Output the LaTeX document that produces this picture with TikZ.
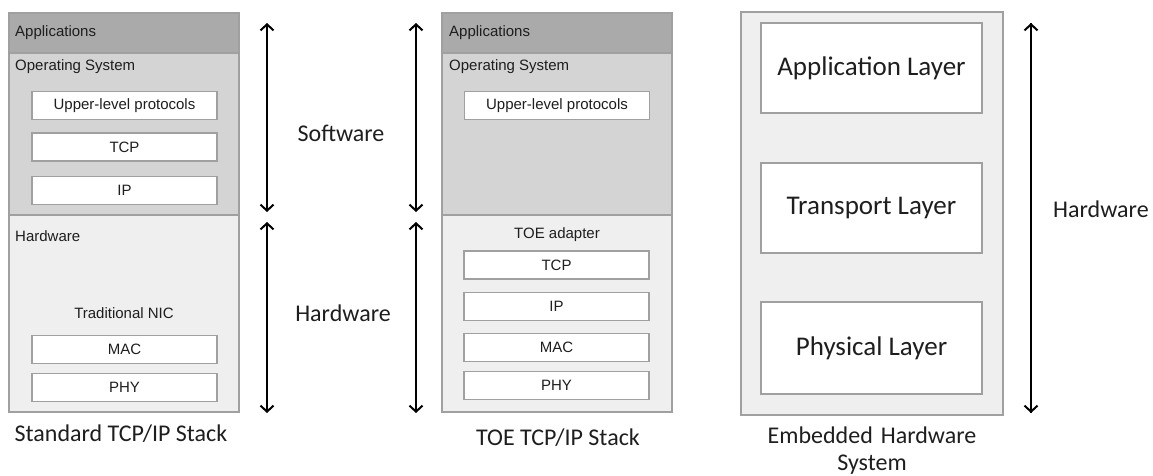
\documentclass[tikz,border=0pt]{standalone}
\usepackage{fontspec}
\setmainfont{Liberation Sans}
\newfontfamily\calfont{Carlito}
\usetikzlibrary{arrows.meta}
\definecolor{appgray}{RGB}{170,170,170}
\definecolor{osgray}{RGB}{212,212,212}
\definecolor{hwgray}{RGB}{239,239,239}
\definecolor{edgegray}{RGB}{160,160,160}
\definecolor{txtgray}{RGB}{30,30,30}
\tikzset{
  band/.style={draw=edgegray, line width=1.6pt, inner sep=0pt, minimum width=230pt},
  proto/.style={draw=edgegray, line width=1.4pt, fill=white, inner sep=0pt, minimum width=185pt, minimum height=28pt, font=\fontsize{15}{17}\selectfont, text=txtgray},
  small/.style={font=\fontsize{15}{17}\selectfont, text=txtgray, inner sep=0pt},
  layer/.style={draw=edgegray, line width=1.6pt, fill=white, inner sep=0pt, minimum width=221pt, font=\calfont\fontsize{27}{30}\selectfont, text=txtgray},
  side/.style={font=\calfont\fontsize{24}{27}\selectfont, text=txtgray, inner sep=0pt},
  caption/.style={font=\calfont\fontsize{24}{27}\selectfont, text=txtgray, inner sep=0pt, align=center},
  barb/.tip={Straight Barb[length=6pt,width=13pt,line width=2pt]},
  dbl/.style={line width=2pt, barb-barb},
  sgl/.style={line width=2pt, -barb}
}
\begin{document}
\begin{tikzpicture}[x=1pt,y=-1pt]
\useasboundingbox (0,0) rectangle (1153,475);
% ---------- Standard stack ----------
\node[band, fill=hwgray, minimum height=197pt] (shw) at (124,313.5) {};
\node[band, fill=osgray, minimum height=162pt] (sos) at (124,134) {};
\node[band, fill=appgray, minimum height=40pt] (sapp) at (124,33) {};
\node[small, anchor=west] (sappl) at (15,33) {Applications};
\node[small, anchor=west] (sosl) at (15,67) {Operating System};
\node[small, anchor=west] (shwl) at (15,236) {Hardware};
\node[proto] (sup) at (124.5,105.5) {Upper-level protocols};
\node[proto] (stcp) at (124.5,147) {TCP};
\node[proto] (sip) at (124.5,190.5) {IP};
\node[small] (snic) at (124,313) {Traditional NIC};
\node[proto] (smac) at (124.5,349.5) {MAC};
\node[proto] (sphy) at (124.5,387.5) {PHY};
\node[caption] (scap) at (121,434) {Standard TCP/IP Stack};
% ---------- arrows 1 ----------
\coordinate (a1t) at (267,23);
\coordinate (a1b) at (267,212);
\coordinate (a2t) at (267,222);
\coordinate (a2b) at (267,413);
\draw[dbl] (a1t) -- (a1b);
\draw[dbl] (a2t) -- (a2b);
\node[side] (swl) at (341,133) {Software};
\node[side] (hwl) at (343,313) {Hardware};
% ---------- arrows 2 ----------
\coordinate (b1t) at (416,23);
\coordinate (b1b) at (416,212);
\coordinate (b2t) at (416,222);
\coordinate (b2b) at (416,413);
\draw[dbl] (b1t) -- (b1b);
\draw[dbl] (b2t) -- (b2b);
% ---------- TOE stack ----------
\node[band, fill=hwgray, minimum height=197pt] (thw) at (557,313.5) {};
\node[band, fill=osgray, minimum height=162pt] (tos) at (557,134) {};
\node[band, fill=appgray, minimum height=40pt] (tapp) at (557,33) {};
\node[small, anchor=west] (tappl) at (449,33) {Applications};
\node[small, anchor=west] (tosl) at (449,67) {Operating System};
\node[proto] (tup) at (557,105.5) {Upper-level protocols};
\node[small] (ttoe) at (557,235) {TOE adapter};
\node[proto] (ttcp) at (556.5,265) {TCP};
\node[proto] (tip) at (556.5,306.5) {IP};
\node[proto] (tmac) at (556.5,347.5) {MAC};
\node[proto] (tphy) at (556.5,385.5) {PHY};
\node[caption] (tcap) at (558,438) {TOE TCP/IP Stack};
% ---------- Embedded ----------
\node[band, fill=hwgray, minimum width=262pt, minimum height=403pt] (emb) at (872,213.5) {};
\node[layer, minimum height=90pt] (eapp) at (871.5,68) {Application Layer};
\node[layer, minimum height=90pt] (etra) at (871.5,208) {Transport Layer};
\node[layer, minimum height=92pt] (ephy) at (871.5,348) {Physical Layer};
\node[caption, text width=240pt] (ecap) at (872,451) {Embedded Hardware\\System};
\coordinate (c1t) at (1031,23);
\coordinate (c1b) at (1031,413);
\draw[sgl] (c1b) -- (c1t);
\draw[sgl] (c1t) -- (c1b);
\node[side, anchor=west] (ehw) at (1053,209) {Hardware};
\end{tikzpicture}
\end{document}
